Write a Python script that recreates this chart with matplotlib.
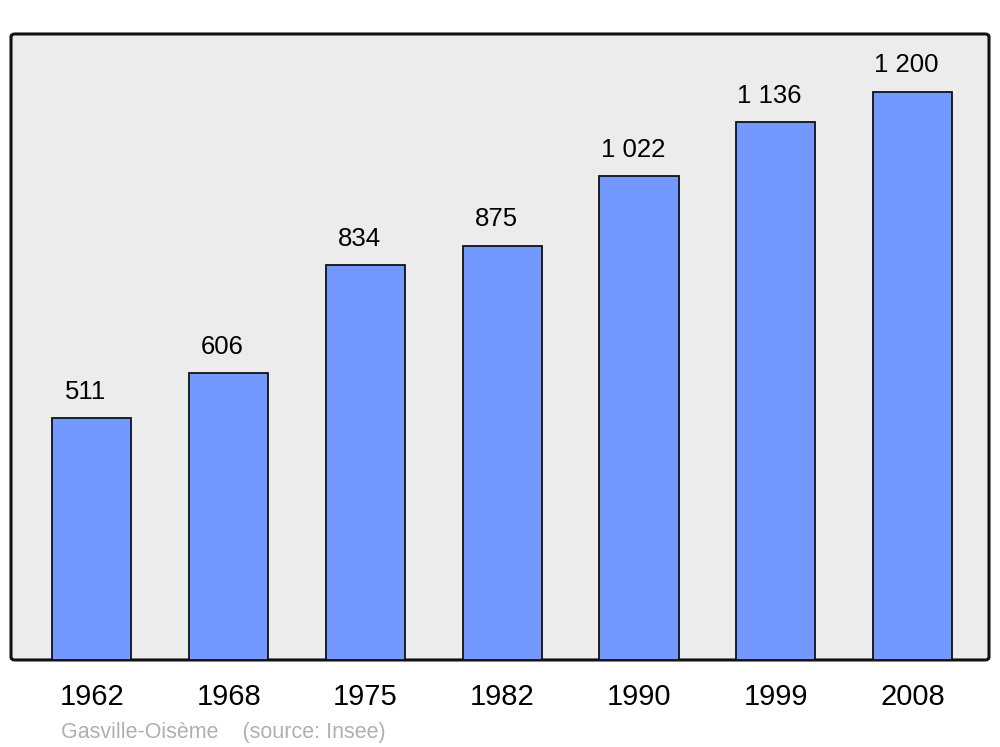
import matplotlib

matplotlib.use("Agg")
import matplotlib.pyplot as plt
from matplotlib.patches import FancyBboxPatch

years = ["1962", "1968", "1975", "1982", "1990", "1999", "2008"]
population = [511, 606, 834, 875, 1022, 1136, 1200]
footer = "Gasville-Oisème    (source: Insee)"

plt.rcParams["font.family"] = ["Liberation Sans", "DejaVu Sans"]

fig = plt.figure(figsize=(10, 7.47), dpi=100)
ax = fig.add_axes([0.011, 0.1165, 0.978, 0.838])
ax.set_facecolor("none")

# rounded frame behind the axes
frame = FancyBboxPatch(
    (0.011, 0.1165), 0.978, 0.838,
    boxstyle="round,pad=0,rounding_size=0.004",
    transform=fig.transFigure, facecolor="#ececec", edgecolor="#111111",
    linewidth=2.2, zorder=-5,
)
fig.patches.append(frame)

x = list(range(len(years)))
ax.bar(x, population, width=0.578, color="#7399ff", edgecolor="#111111",
       linewidth=1.3, zorder=2)

for xi, v in zip(x, population):
    label = f"{v:,}".replace(",", " ")
    ax.annotate(label, (xi, v), xytext=(-4.5, 19), textcoords="offset points",
                ha="center", va="center", fontsize=18.5, color="black")

ax.set_xlim(-0.592, 6.559)
ax.set_ylim(0, 1322)
ax.set_xticks(x, years, fontsize=21)
ax.tick_params(axis="x", length=0, pad=16.5)
ax.set_yticks([])
for s in ax.spines.values():
    s.set_visible(False)

fig.text(0.061, 0.0125, footer, fontsize=15.5, color="#b0b0b0", ha="left", va="baseline")

fig.savefig("out.png", dpi=100)
